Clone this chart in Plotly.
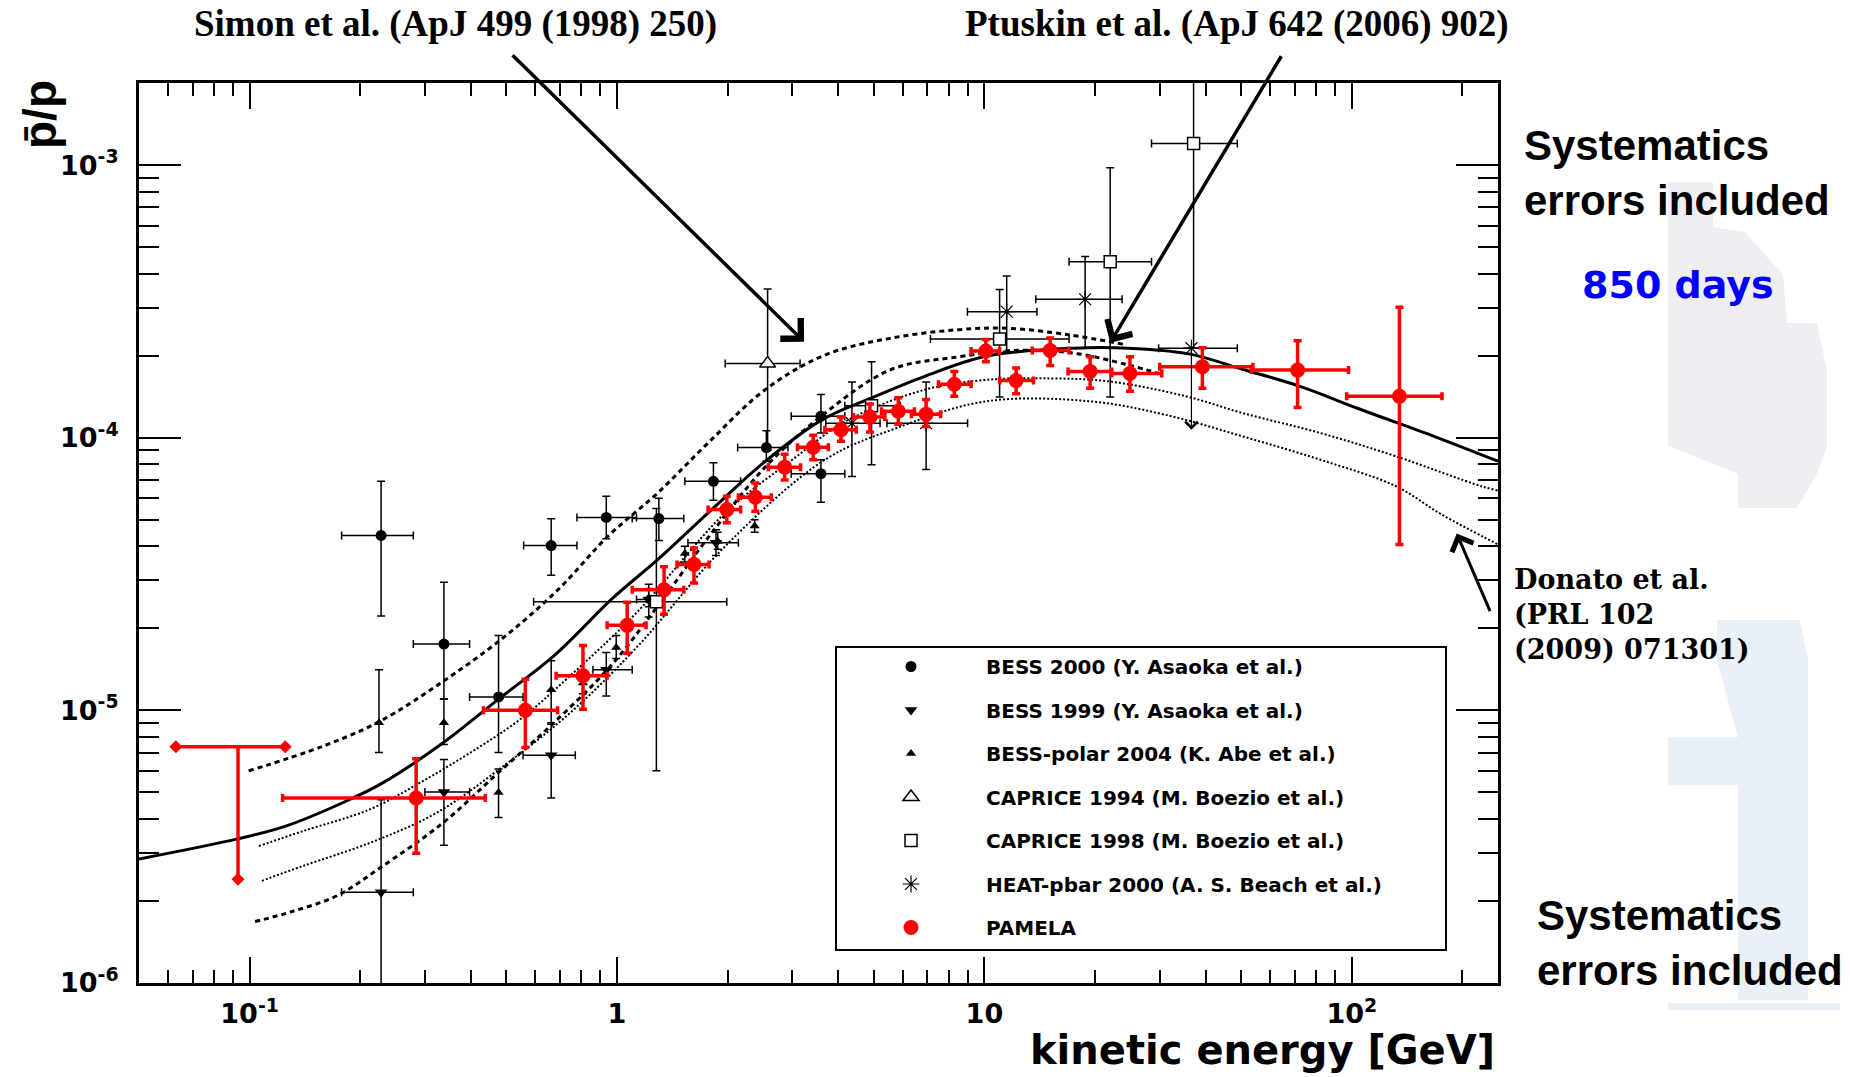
import numpy as np
import plotly.graph_objects as go

# ---------------- data: antiproton / proton ratio ----------------
# PAMELA
pam_E = [0.284, 0.563, 0.808, 1.066, 1.343, 1.62, 1.99, 2.38, 2.86, 3.42, 4.07, 4.88,
         5.83, 6.94, 8.28, 10.09, 12.2, 15.1, 19.4, 24.9, 39.2, 71.2, 134.8]
pam_R = [4.77e-6, 1.0e-5, 1.34e-5, 2.05e-5, 2.77e-5, 3.43e-5, 5.45e-5, 6.05e-5, 7.8e-5,
         9.23e-5, 1.07e-4, 1.19e-4, 1.25e-4, 1.22e-4, 1.57e-4, 2.08e-4, 1.62e-4, 2.09e-4,
         1.75e-4, 1.72e-4, 1.82e-4, 1.77e-4, 1.42e-4]
pam_lo = [2.99e-6, 7.3e-6, 1.01e-5, 1.62e-5, 2.25e-5, 2.93e-5, 4.88e-5, 5.37e-5, 7.0e-5,
          8.3e-5, 9.7e-5, 1.05e-4, 1.12e-4, 1.10e-4, 1.42e-4, 1.90e-4, 1.45e-4, 1.84e-4,
          1.52e-4, 1.48e-4, 1.52e-4, 1.29e-4, 4.06e-5]
pam_hi = [6.65e-6, 1.30e-5, 1.73e-5, 2.49e-5, 3.36e-5, 3.94e-5, 6.1e-5, 6.82e-5, 8.7e-5,
          1.02e-4, 1.19e-4, 1.33e-4, 1.40e-4, 1.38e-4, 1.75e-4, 2.29e-4, 1.80e-4, 2.32e-4,
          1.98e-4, 1.98e-4, 2.14e-4, 2.27e-4, 3.01e-4]
pam_Elo = [0.123, 0.433, 0.683, 0.94, 1.10, 1.457, 1.77, 2.14, 2.58, 3.1, 3.68, 4.4,
           5.25, 6.33, 7.5, 9.2, 11.0, 13.5, 16.9, 22.2, 30.0, 53.3, 96.8]
pam_Ehi = [0.438, 0.689, 0.94, 1.2, 1.52, 1.78, 2.17, 2.63, 3.16, 3.76, 4.48, 5.36,
           6.45, 7.6, 9.2, 11.0, 13.6, 17.0, 22.2, 30.4, 53.8, 98.0, 176.0]

# PAMELA upper limit in the lowest bin
pam_ul_E = 0.093
pam_ul_R = 7.36e-6
pam_ul_Elo = 0.063
pam_ul_Ehi = 0.125
pam_ul_Rdown = 2.4e-6

# BESS 2000
b00_E = [0.228, 0.338, 0.476, 0.662, 0.935, 1.30, 1.83, 2.55, 3.59, 3.59]
b00_R = [4.38e-5, 1.75e-5, 1.12e-5, 4.02e-5, 5.1e-5, 5.05e-5, 6.92e-5, 9.2e-5, 1.2e-4, 7.38e-5]
b00_lo = [2.22e-5, 1.1e-5, 7.0e-6, 3.13e-5, 4.26e-5, 4.2e-5, 5.9e-5, 8.2e-5, 1.04e-4, 5.8e-5]
b00_hi = [6.92e-5, 2.95e-5, 1.88e-5, 5.04e-5, 6.1e-5, 6.0e-5, 8.1e-5, 1.06e-4, 1.44e-4, 8.3e-5]
b00_Elo = [0.178, 0.279, 0.397, 0.557, 0.778, 1.10, 1.53, 2.13, 2.98, 2.98]
b00_Ehi = [0.279, 0.397, 0.555, 0.778, 1.13, 1.52, 2.17, 2.92, 4.17, 4.17]

# BESS 1999
b99_E = [0.228, 0.338, 0.662, 0.935, 1.22, 1.86]
b99_R = [2.15e-6, 5.02e-6, 6.84e-6, 1.41e-5, 2.55e-5, 4.12e-5]
b99_lo = [5.0e-7, 3.2e-6, 4.77e-6, 1.13e-5, 2.2e-5, 3.7e-5]
b99_hi = [4.7e-6, 6.6e-6, 9.0e-6, 1.63e-5, 2.9e-5, 4.6e-5]
b99_Elo = [0.178, 0.30, 0.555, 0.86, 1.13, 1.56]
b99_Ehi = [0.279, 0.397, 0.77, 1.1, 1.33, 2.14]

# BESS-polar 2004
bp_E = [0.225, 0.338, 0.476, 0.662, 0.808, 0.995, 1.22, 1.53, 1.88, 2.37]
bp_R = [9.0e-6, 9.0e-6, 5.0e-6, 1.19e-5, 1.26e-5, 1.70e-5, 2.59e-5, 3.76e-5, 4.17e-5, 4.74e-5]
bp_lo = [7.0e-6, 7.5e-6, 4.05e-6, 8.9e-6, 1.15e-5, 1.55e-5, 2.4e-5, 3.5e-5, 3.9e-5, 4.5e-5]
bp_hi = [1.41e-5, 1.1e-5, 6.1e-6, 1.52e-5, 1.4e-5, 1.88e-5, 2.8e-5, 4.0e-5, 4.5e-5, 5.0e-5]

# CAPRICE 1994
c94_E = [2.57]
c94_R = [1.87e-4]
c94_lo = [9.0e-5]
c94_hi = [3.51e-4]
c94_Elo = [1.97]
c94_Ehi = [3.15]

# CAPRICE 1998
c98_E = [1.28, 4.93, 11.0, 22.0, 37.1]
c98_R = [2.5e-5, 1.31e-4, 2.30e-4, 4.42e-4, 1.2e-3]
c98_lo = [6.0e-6, 7.96e-5, 1.41e-4, 1.41e-4, 2.13e-4]
c98_hi = [5.5e-5, 1.9e-4, 3.5e-4, 9.77e-4, 3.0e-3]
c98_Elo = [0.593, 4.17, 7.13, 17.0, 28.5]
c98_Ehi = [1.99, 5.9, 17.0, 28.5, 48.8]

# HEAT-pbar 2000 (last bin: lower error runs to an arrow)
heat_E = [4.36, 6.94, 11.5, 18.8, 36.6]
heat_R = [1.13e-4, 1.13e-4, 2.9e-4, 3.22e-4, 2.13e-4]
heat_lo = [7.2e-5, 7.65e-5, 2.07e-4, 2.13e-4, 2.13e-4]
heat_hi = [1.6e-4, 1.6e-4, 3.92e-4, 4.62e-4, 2.13e-4]
heat_Elo = [3.7, 5.43, 8.99, 13.8, 29.8]
heat_Ehi = [5.2, 9.0, 13.9, 23.7, 48.8]
heat_arrow_to = 1.07e-4

# Model curves
solid_E = [0.05, 0.092, 0.126, 0.188, 0.231, 0.337, 0.476, 0.672, 0.98, 1.29, 1.85, 2.53,
           3.60, 4.93, 6.88, 10.1, 17.6, 24.6, 36.0, 50.6, 72.6, 104, 168, 250]
solid_R = [2.85e-6, 3.37e-6, 3.77e-6, 4.72e-6, 5.43e-6, 7.62e-6, 1.10e-5, 1.58e-5, 2.6e-5,
           3.57e-5, 5.6e-5, 8.18e-5, 1.16e-4, 1.40e-4, 1.68e-4, 1.99e-4, 2.13e-4, 2.13e-4,
           2.03e-4, 1.78e-4, 1.54e-4, 1.28e-4, 1.01e-4, 8.2e-5]

simon_up_E = [0.0994, 0.159, 0.227, 0.337, 0.491, 0.691, 0.945, 1.29, 1.77, 2.53, 3.68,
              5.58, 8.5, 11.6, 17.1, 24.0]
simon_up_R = [6.0e-6, 7.4e-6, 9.14e-6, 1.28e-5, 1.85e-5, 2.77e-5, 4.35e-5, 6.27e-5, 9.57e-5,
              1.50e-4, 2.01e-4, 2.32e-4, 2.49e-4, 2.52e-4, 2.38e-4, 2.2e-4]

simon_lo_E = [0.1035, 0.129, 0.173, 0.227, 0.337, 0.476, 0.658, 0.959, 1.29, 1.77, 2.53,
              3.68, 5.58, 8.5, 11.95, 17.2, 24.6, 29.8]
simon_lo_R = [1.68e-6, 1.82e-6, 2.09e-6, 2.65e-6, 3.88e-6, 5.92e-6, 8.75e-6, 1.45e-5,
              2.41e-5, 4.3e-5, 7.8e-5, 1.23e-4, 1.78e-4, 1.98e-4, 2.09e-4, 2.05e-4,
              1.85e-4, 1.72e-4]

donato_up_E = [0.106, 0.14, 0.213, 0.291, 0.399, 0.545, 0.746, 1.13, 1.97, 3.0, 4.2, 6.88,
               10.1, 15.2, 21.8, 35.3, 50.6, 82.2, 131.8, 225, 250]
donato_up_R = [3.18e-6, 3.61e-6, 4.34e-6, 5.43e-6, 7.0e-6, 9.27e-6, 1.34e-5, 2.28e-5,
               5.3e-5, 8.3e-5, 1.15e-4, 1.5e-4, 1.63e-4, 1.65e-4, 1.61e-4, 1.42e-4,
               1.23e-4, 1.04e-4, 8.55e-5, 6.64e-5, 6.4e-5]

donato_lo_E = [0.108, 0.14, 0.213, 0.323, 0.491, 0.746, 1.13, 1.97, 3.68, 5.82, 10.1, 19.4,
               31.4, 50.6, 82.2, 131.8, 176, 250]
donato_lo_R = [2.37e-6, 2.69e-6, 3.27e-6, 4.21e-6, 6.25e-6, 9.8e-6, 1.7e-5, 4.0e-5, 8.3e-5,
               1.09e-4, 1.36e-4, 1.36e-4, 1.21e-4, 1.01e-4, 8.3e-5, 6.64e-5, 5.22e-5,
               4.06e-5]

# ---------------- figure geometry ----------------
W, H = 1850, 1077
PL, PR, PT, PB = 139, 1498, 83, 983


def px(x):
    return (x - PL) / (PR - PL)


def py(y):
    return (PB - y) / (PB - PT)


def errs(v, lo, hi):
    v, lo, hi = map(np.asarray, (v, lo, hi))
    return dict(type='data', symmetric=False, array=hi - v, arrayminus=v - lo)


SANS = 'DejaVu Sans'
ARIAL = 'Liberation Sans'
SERIF = 'Liberation Serif'

fig = go.Figure()

# model curves
fig.add_trace(go.Scatter(x=donato_up_E, y=donato_up_R, mode='lines', showlegend=False,
                         line=dict(color='black', width=2, dash='2px,2px', shape='spline')))
fig.add_trace(go.Scatter(x=donato_lo_E, y=donato_lo_R, mode='lines', showlegend=False,
                         line=dict(color='black', width=2, dash='2px,2px', shape='spline')))
fig.add_trace(go.Scatter(x=simon_up_E, y=simon_up_R, mode='lines', showlegend=False,
                         line=dict(color='black', width=3, dash='5px,4px', shape='spline')))
fig.add_trace(go.Scatter(x=simon_lo_E, y=simon_lo_R, mode='lines', showlegend=False,
                         line=dict(color='black', width=3, dash='5px,4px', shape='spline')))
fig.add_trace(go.Scatter(x=solid_E, y=solid_R, mode='lines', showlegend=False,
                         line=dict(color='black', width=3, shape='spline')))

BLK_ERR = dict(color='black', thickness=1.5, width=4)


def black_set(name, E, R, lo, hi, Elo=None, Ehi=None, marker=None):
    ey = errs(R, lo, hi)
    ey.update(BLK_ERR)
    kw = dict(x=E, y=R, mode='markers', name=name, marker=marker, error_y=ey,
              legendgroup=name)
    if Elo is not None:
        ex = errs(E, Elo, Ehi)
        ex.update(BLK_ERR)
        kw['error_x'] = ex
    fig.add_trace(go.Scatter(**kw))


black_set('BESS 2000 (Y. Asaoka et al.)', b00_E, b00_R, b00_lo, b00_hi, b00_Elo, b00_Ehi,
          marker=dict(symbol='circle', size=11, color='black'))
black_set('BESS 1999 (Y. Asaoka et al.)', b99_E, b99_R, b99_lo, b99_hi, b99_Elo, b99_Ehi,
          marker=dict(symbol='triangle-down', size=11, color='black'))
black_set('BESS-polar 2004 (K. Abe et al.)', bp_E, bp_R, bp_lo, bp_hi,
          marker=dict(symbol='triangle-up', size=9, color='black'))
black_set('CAPRICE 1994 (M. Boezio et al.)', c94_E, c94_R, c94_lo, c94_hi, c94_Elo, c94_Ehi,
          marker=dict(symbol='triangle-up', size=14, color='white',
                      line=dict(color='black', width=1.5)))
black_set('CAPRICE 1998 (M. Boezio et al.)', c98_E, c98_R, c98_lo, c98_hi, c98_Elo, c98_Ehi,
          marker=dict(symbol='square', size=12, color='white',
                      line=dict(color='black', width=1.5)))
black_set('HEAT-pbar 2000 (A. S. Beach et al.)', heat_E, heat_R, heat_lo, heat_hi,
          heat_Elo, heat_Ehi,
          marker=dict(symbol='asterisk-open', size=14, color='black',
                      line=dict(color='black', width=1.2)))

# PAMELA upper limit (bar with arrows)
fig.add_trace(go.Scatter(x=[pam_ul_Elo, pam_ul_Ehi, None, pam_ul_E, pam_ul_E],
                         y=[pam_ul_R, pam_ul_R, None, pam_ul_R, pam_ul_Rdown],
                         mode='lines', showlegend=False,
                         line=dict(color='red', width=3.5)))
fig.add_trace(go.Scatter(x=[pam_ul_Elo, pam_ul_Ehi, pam_ul_E],
                         y=[pam_ul_R, pam_ul_R, pam_ul_Rdown],
                         mode='markers', showlegend=False,
                         marker=dict(symbol='diamond', size=10, color='red')))

RED_ERR = dict(color='red', thickness=3.5, width=4)
ey = errs(pam_R, pam_lo, pam_hi)
ey.update(RED_ERR)
ex = errs(pam_E, pam_Elo, pam_Ehi)
ex.update(RED_ERR)
fig.add_trace(go.Scatter(x=pam_E, y=pam_R, mode='markers', name='PAMELA', legendgroup='PAMELA',
                         marker=dict(symbol='circle', size=15, color='red'),
                         error_y=ey, error_x=ex))

# ---------------- axes ----------------
xminor = [k * 10.0 ** n for n in range(-2, 3) for k in range(2, 10)
          if 0.05 <= k * 10.0 ** n <= 250]
yminor = [k * 10.0 ** n for n in range(-6, -2) for k in range(2, 10)
          if k * 10.0 ** n <= 2e-3]
tickfont = dict(family=SANS, size=27, color='black', weight='bold')

fig.update_xaxes(type='log', range=[np.log10(0.05), np.log10(250)],
                 tickmode='array', tickvals=[0.1, 1, 10, 100],
                 ticktext=['10<sup>-1</sup>', '1', '10', '10<sup>2</sup>'],
                 ticks='inside', ticklen=26, tickwidth=1.5, tickcolor='black',
                 minor=dict(tickmode='array', tickvals=xminor, ticks='inside', ticklen=13,
                            tickwidth=1.5, tickcolor='black', showgrid=False),
                 showline=True, linewidth=3, linecolor='black', mirror='allticks',
                 showgrid=False, zeroline=False, tickfont=tickfont, ticklabelstandoff=5)
fig.update_yaxes(type='log', range=[-6, np.log10(2e-3)],
                 tickmode='array', tickvals=[1e-6, 1e-5, 1e-4, 1e-3],
                 ticktext=['10<sup>-6</sup>', '10<sup>-5</sup>', '10<sup>-4</sup>',
                           '10<sup>-3</sup>'],
                 ticks='inside', ticklen=42, tickwidth=1.5, tickcolor='black',
                 minor=dict(tickmode='array', tickvals=yminor, ticks='inside', ticklen=20,
                            tickwidth=1.5, tickcolor='black', showgrid=False),
                 showline=True, linewidth=3, linecolor='black', mirror='allticks',
                 showgrid=False, zeroline=False, tickfont=tickfont, ticklabelstandoff=12)

# ---------------- annotations ----------------
ann = []
ann.append(dict(text='kinetic energy [GeV]', xref='paper', yref='paper', x=px(1497),
                y=py(1050), xanchor='right', yanchor='middle', showarrow=False,
                font=dict(family=SANS, size=40, color='black', weight='bold')))
ann.append(dict(text='p\u0304/p', xref='paper', yref='paper', x=px(40), y=py(115),
                xanchor='center', yanchor='middle', textangle=-90, showarrow=False,
                font=dict(family=ARIAL, size=46, color='black', weight='bold')))
ann.append(dict(text='Simon et al. (ApJ 499 (1998) 250)', xref='paper', yref='paper',
                x=px(455), y=py(24), xanchor='center', yanchor='middle', showarrow=False,
                font=dict(family=SERIF, size=37, color='black', weight='bold')))
ann.append(dict(text='Ptuskin et al. (ApJ 642 (2006) 902)', xref='paper', yref='paper',
                x=px(1237), y=py(24), xanchor='center', yanchor='middle', showarrow=False,
                font=dict(family=SERIF, size=37, color='black', weight='bold')))
ann.append(dict(text='Systematics<br>errors included', xref='paper', yref='paper',
                x=px(1522), y=py(173), xanchor='left', yanchor='middle', align='left',
                showarrow=False, font=dict(family=ARIAL, size=42, color='black', weight='bold')))
ann.append(dict(text='850 days', xref='paper', yref='paper', x=px(1580), y=py(285),
                xanchor='left', yanchor='middle', showarrow=False,
                font=dict(family=SANS, size=38, color='blue', weight='bold')))
ann.append(dict(text='Donato et al.<br>(PRL 102<br>(2009) 071301)', xref='paper',
                yref='paper', x=px(1512), y=py(614), xanchor='left', yanchor='middle',
                align='left', showarrow=False,
                font=dict(family='DejaVu Serif', size=27, color='black', weight='bold')))
ann.append(dict(text='Systematics<br>errors included', xref='paper', yref='paper',
                x=px(1535), y=py(943), xanchor='left', yanchor='middle', align='left',
                showarrow=False, font=dict(family=ARIAL, size=42, color='black', weight='bold')))

# arrows pointing at the model curves
ann.append(dict(text='', x=np.log10(3.23), y=np.log10(2.25e-4), xref='x', yref='y',
                ax=-293, ay=-288, showarrow=True, arrowhead=4, arrowsize=1.6,
                arrowwidth=3.5, arrowcolor='black', standoff=0))
ann.append(dict(text='', x=np.log10(22.0), y=np.log10(2.23e-4), xref='x', yref='y',
                ax=172, ay=-288, showarrow=True, arrowhead=4, arrowsize=1.6,
                arrowwidth=3.5, arrowcolor='black', standoff=0))
ann.append(dict(text='', x=np.log10(193), y=np.log10(4.45e-5), xref='x', yref='y',
                ax=34, ay=79, showarrow=True, arrowhead=4, arrowsize=1.5,
                arrowwidth=3, arrowcolor='black', standoff=0))
# HEAT last bin: arrow down
ann.append(dict(text='', x=np.log10(heat_E[-1]), y=np.log10(heat_arrow_to), xref='x',
                yref='y', ax=np.log10(heat_E[-1]), ay=np.log10(heat_R[-1]), axref='x',
                ayref='y', showarrow=True, arrowhead=4, arrowsize=2, arrowwidth=1.2,
                arrowcolor='black', standoff=0))


def poly(points):
    return 'M ' + ' L '.join('{:.5f} {:.5f}'.format(px(a), py(b)) for a, b in points) + ' Z'


# faint background blocks at the right margin
shapes = [
    dict(type='path', xref='paper', yref='paper', layer='below', line=dict(width=0),
         fillcolor='#f1eef3',
         path=poly([(1668, 182), (1713, 182), (1713, 227), (1745, 232), (1783, 275),
                    (1787, 323), (1817, 323), (1827, 371), (1827, 446), (1817, 474),
                    (1797, 508), (1738, 508), (1738, 474), (1668, 446)])),
    dict(type='path', xref='paper', yref='paper', layer='below', line=dict(width=0),
         fillcolor='#e9f0f8',
         path=poly([(1717, 620), (1800, 620), (1808, 660), (1808, 1000), (1738, 1000),
                    (1738, 785), (1668, 785), (1668, 737), (1738, 737), (1717, 660)])),
    dict(type='rect', xref='paper', yref='paper', layer='below', line=dict(width=0),
         fillcolor='#e9f0f8', x0=px(1668), x1=px(1840), y0=py(1010), y1=py(1003)),
    # legend frame
    dict(type='rect', xref='paper', yref='paper', x0=px(836), x1=px(1446), y0=py(950),
         y1=py(647), line=dict(color='black', width=2), fillcolor='white', layer='above'),
]

fig.update_layout(
    width=W, height=H, autosize=False,
    margin=dict(l=PL, r=W - PR, t=PT, b=H - PB),
    paper_bgcolor='white', plot_bgcolor='white',
    annotations=ann, shapes=shapes,
    legend=dict(x=px(836), y=py(647), xanchor='left', yanchor='top',
                bgcolor='rgba(0,0,0,0)', borderwidth=0, itemwidth=140,
                tracegroupgap=14.5, itemclick=False,
                font=dict(family=SANS, size=20, color='black', weight='bold')),
)

fig.write_html('out.html')
